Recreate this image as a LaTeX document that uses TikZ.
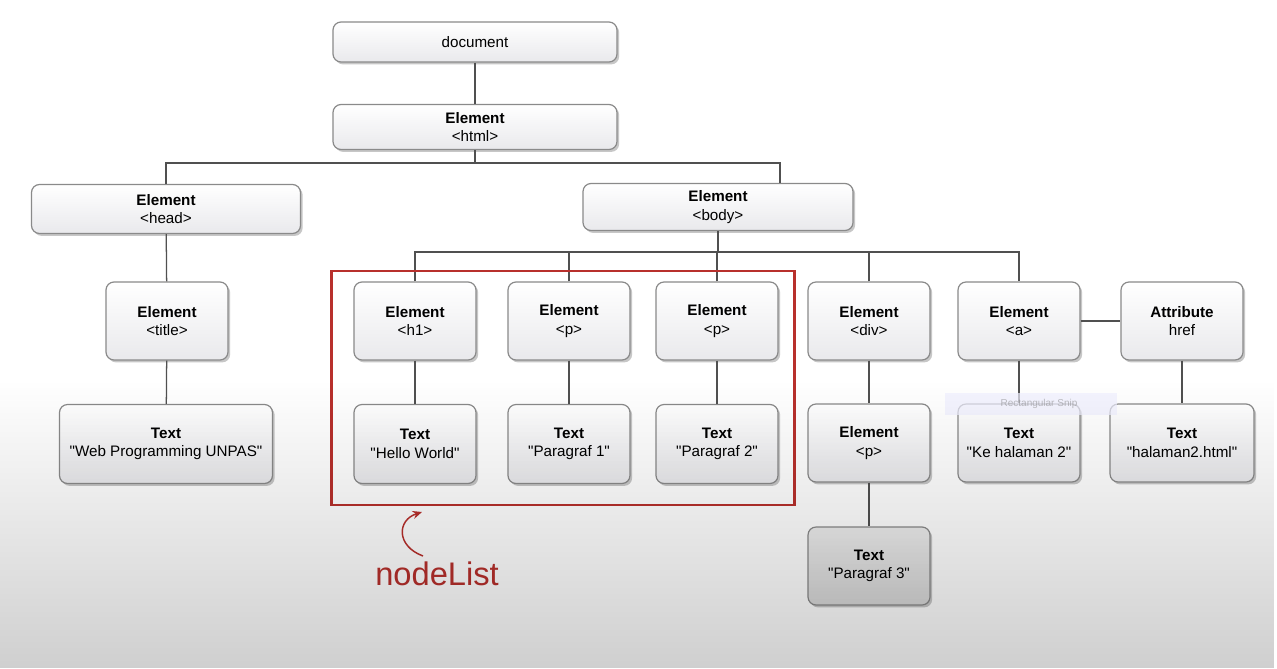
\documentclass[tikz,border=0pt]{standalone}
\usepackage{fontspec}
\setmainfont{Liberation Sans}
\usetikzlibrary{shadows,arrows.meta,fadings}
\definecolor{boxborder}{HTML}{8A8A8A}
\definecolor{boxfill}{HTML}{E9E9EC}
\definecolor{linecol}{HTML}{505050}
\definecolor{redbox}{HTML}{B8302C}
\newcommand{\dq}{\XeTeXglyph\XeTeXglyphindex "quotedbl"\relax}
\tikzfading[name=myfade, top color=transparent!100, bottom color=transparent!0]
\begin{document}
\begin{tikzpicture}[x=0.75pt,y=-0.75pt,
  box/.style={draw=boxborder, line width=0.9pt, rounded corners=6pt,
    top color=white, bottom color=boxfill,
    drop shadow={shadow xshift=1.6pt, shadow yshift=-1.8pt, opacity=0.4, fill=black!55},
    align=center, inner sep=0pt, font=\fontsize{11.4}{13.8}\selectfont},
  bx/.style n args={2}{box, minimum width=#1*0.75pt, minimum height=#2*0.75pt},
  conn/.style={draw=linecol, line width=0.95pt}]
\useasboundingbox (0,0) rectangle (1277,668);
\fill[white] (0,0) rectangle (1277,668);

% tree nodes
\node[bx={284}{40}] (doc) at (475,42) {document};
\node[bx={284}{45}] (html) at (475,127) {\textbf{Element}\\<html>};
\node[bx={269}{49}] (head) at (166,209) {\textbf{Element}\\<head>};
\node[bx={270}{47}] (body) at (718,207) {\textbf{Element}\\<body>};
\node[bx={122}{78}] (title) at (167,321) {\textbf{Element}\\<title>};
\node[bx={213}{79}] (tweb) at (166,444) {\textbf{Text}\\\dq Web Programming UNPAS\dq};
\node[bx={122}{78}] (h1) at (415,321) {\textbf{Element}\\<h1>};
\node[bx={122}{78}] (p1) at (569,321) {\textbf{Element}\\<p>};
\node[bx={122}{78}] (p2) at (717,321) {\textbf{Element}\\<p>};
\node[bx={122}{78}] (div) at (869,321) {\textbf{Element}\\<div>};
\node[bx={122}{78}] (a) at (1019,321) {\textbf{Element}\\<a>};
\node[bx={122}{78}] (attr) at (1182,321) {\textbf{Attribute}\\href};
\node[bx={122}{79}] (th1) at (415,444) {\textbf{Text}\\\dq Hello World\dq};
\node[bx={122}{79}] (tp1) at (569,444) {\textbf{Text}\\\dq Paragraf 1\dq};
\node[bx={122}{79}] (tp2) at (717,444) {\textbf{Text}\\\dq Paragraf 2\dq};
\node[bx={122}{78}] (p3) at (869,443) {\textbf{Element}\\<p>};
\node[bx={122}{78}] (tke) at (1019,443) {\textbf{Text}\\\dq Ke halaman 2\dq};
\node[bx={144}{78}] (thref) at (1182,443) {\textbf{Text}\\\dq halaman2.html\dq};
\node[bx={122}{78}, top color=gray!14, bottom color=gray!30] (tp3) at (869,566) {\textbf{Text}\\\dq Paragraf 3\dq};

% connectors
\coordinate (hbus) at (475,163);
\coordinate (bbus) at (718,252);
\draw[conn] (doc) -- (html);
\draw[conn] (html.south) -- (hbus);
\draw[conn] (head.north) |- (hbus) -| (body.north -| 780,0);
\draw[conn] (body.south) -- (bbus);
\draw[conn] (h1.north) |- (bbus) -| (a.north);
\draw[conn] (p1.north) -- (p1.north |- bbus);
\draw[conn] (p2.north) -- (p2.north |- bbus);
\draw[conn] (div.north) -- (div.north |- bbus);
\draw[conn] (head) -- (title);
\draw[conn] (title) -- (tweb);
\draw[conn] (h1) -- (th1);
\draw[conn] (p1) -- (tp1);
\draw[conn] (p2) -- (tp2);
\draw[conn] (div) -- (p3);
\draw[conn] (p3) -- (tp3);
\draw[conn] (a) -- (tke);
\draw[conn] (a) -- (attr);
\draw[conn] (attr) -- (thref);

% nodeList highlight
\node[draw=redbox, line width=2.1pt, minimum width=463*0.75pt, minimum height=234*0.75pt, inner sep=0pt] (nlbox) at (563,388) {};
\node[text=redbox, font=\fontsize{24.5}{28}\selectfont, inner sep=0pt, anchor=west] (nl) at (375,574) {nodeList};
\coordinate (arrs) at (423,556);
\coordinate (arre) at (422,512);
\draw[redbox, line width=1.1pt, -{Stealth[length=7pt,width=6pt]}] (arrs) .. controls (396,546) and (397,520) .. (arre);

% screen overlay artifact
\node[fill=blue!6, opacity=0.7, text opacity=0.5, text=gray, minimum width=172*0.75pt, minimum height=22*0.75pt, inner sep=0pt, font=\fontsize{7.5}{9}\selectfont] (snip) at (1031,404) {\hspace*{12pt}Rectangular Snip};

% gradient overlay at bottom
\fill[black, opacity=0.19, path fading=myfade] (0,380) rectangle (1277,668);
\end{tikzpicture}
\end{document}
